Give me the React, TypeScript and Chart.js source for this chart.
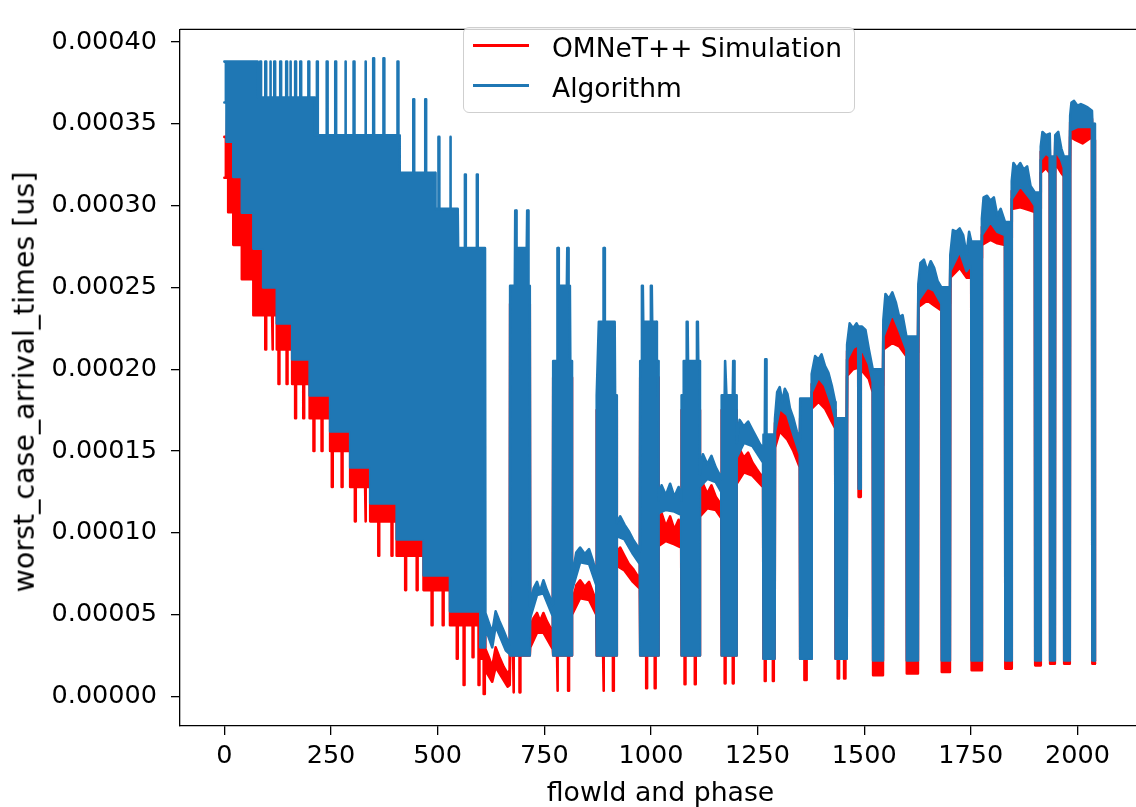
import React, { useEffect, useRef } from "react";
import { Chart, registerables } from "chart.js";

Chart.register(...registerables);

// All y values below are written in units of 1e-5 us.
const Y_UNIT = 1e-5;

const xTicks = [0, 250, 500, 750, 1000, 1250, 1500, 1750, 2000];
const xTickLabels = ["0", "250", "500", "750", "1000", "1250", "1500", "1750", "2000"];
const yTicks = [0, 5, 10, 15, 20, 25, 30, 35, 40];
const yTickLabels = ["0.00000", "0.00005", "0.00010", "0.00015", "0.00020", "0.00025", "0.00030", "0.00035", "0.00040"];

const seriesNames = ["OMNeT++ Simulation", "Algorithm"];
const seriesColors = ["#ff0000", "#1f77b4"];
const xAxisTitle = "flowId and phase";
const yAxisTitle = "worst_case_arrival_times [us]";

// ---------- Algorithm: upper edge of the trace ----------
const algorithmUpperDense: [number, number][] = [
  [0, 38.8], [78, 38.8], [79, 36.6],
  [84, 36.6], [84, 38.8], [86, 38.8], [86, 36.6],
  [96, 36.6], [96, 38.8], [98, 38.8], [98, 36.6],
  [107, 36.6], [107, 38.8], [109, 38.8], [109, 36.6],
  [117, 36.6], [117, 38.8], [119, 38.8], [119, 36.6],
  [131, 36.6], [131, 38.8], [133, 38.8], [133, 36.6],
  [145, 36.6], [145, 38.8], [147, 38.8], [147, 36.6],
  [154, 36.6], [154, 38.8], [156, 38.8], [156, 36.6],
  [166, 36.6], [166, 38.8], [168, 38.8], [168, 36.6],
  [178, 36.6], [178, 38.8], [180, 38.8], [180, 36.6],
  [197, 36.6], [197, 38.8], [199, 38.8], [199, 36.6],
  [212, 36.6], [213, 34.3],
  [217, 34.3], [217, 38.8], [219, 38.8], [219, 34.3],
  [240, 34.3], [240, 38.8], [242, 38.8], [242, 34.3],
  [260, 34.3], [260, 38.8], [262, 38.8], [262, 34.3],
  [283, 34.3], [283, 38.8], [285, 38.8], [285, 34.3],
  [303, 34.3], [303, 38.8], [305, 38.8], [305, 34.3],
  [330, 34.3], [330, 38.8], [332, 38.8], [332, 34.3],
  [349, 34.3], [349, 39.0], [351, 39.0], [351, 34.3],
  [373, 34.3], [373, 39.0], [375, 39.0], [375, 34.3],
  [406, 34.3], [406, 38.8], [408, 38.8], [408, 34.3],
  [410, 34.3], [411, 32.0],
  [443, 32.0], [443, 36.5], [445, 36.5], [445, 32.0],
  [471, 32.0], [471, 36.5], [473, 36.5], [473, 32.0],
  [494, 32.0], [495, 29.8],
  [502, 29.8], [502, 34.2], [504, 34.2], [504, 29.8],
  [529, 29.8], [529, 34.2], [531, 34.2], [531, 29.8],
  [547, 29.8], [548, 27.4],
  [564, 27.4], [564, 31.9], [566, 31.9], [566, 27.4],
  [592, 27.4], [592, 31.9], [594, 31.9], [594, 27.4],
  [611, 27.4],
];

const algorithmUpperSparse: [number, number][] = [
  [612, 5.1], [620, 4.5], [628, 3.9], [636, 5.2], [645, 4.6], [655, 4.0], [664, 3.4], [669, 3.2],
  [670, 25.1], [681, 25.1], [682, 29.7], [684, 29.7], [685, 27.4], [709, 27.4], [710, 29.7], [712, 29.7], [713, 25.1], [716, 25.1],
  [717, 5.5], [725, 6.6], [733, 7.0], [740, 6.4], [748, 7.1], [756, 6.5], [764, 6.0], [770, 5.6],
  [771, 20.5], [780, 20.5], [781, 27.4], [783, 27.4], [784, 25.1], [803, 25.1], [804, 27.4], [806, 27.4], [807, 25.1], [810, 25.1], [811, 20.5], [814, 20.5],
  [815, 7.2], [825, 8.8], [834, 9.1], [845, 8.7], [855, 9.0], [865, 8.2], [872, 7.5],
  [873, 18.4], [878, 22.9], [888, 22.9], [889, 27.4], [891, 27.4], [892, 22.9], [915, 22.9], [916, 18.4], [919, 18.4],
  [920, 10.6], [928, 11.0], [938, 10.5], [948, 10.1], [958, 9.6], [968, 9.2], [974, 8.9],
  [975, 20.5], [978, 20.5], [979, 25.1], [981, 25.1], [982, 22.9], [999, 22.9], [1000, 25.1], [1002, 25.1], [1003, 22.9], [1013, 22.9], [1014, 20.5], [1017, 20.5],
  [1018, 12.0], [1025, 12.9], [1035, 12.3], [1045, 13.0], [1055, 12.2], [1065, 12.8], [1071, 12.0],
  [1072, 18.4], [1076, 18.4], [1077, 20.5], [1083, 20.5], [1084, 22.9], [1086, 22.9], [1087, 20.5], [1107, 20.5], [1108, 22.9], [1110, 22.9], [1111, 20.5], [1114, 20.5],
  [1115, 13.6], [1122, 14.8], [1132, 14.2], [1142, 14.7], [1152, 14.0], [1160, 13.6], [1165, 13.3],
  [1166, 18.4], [1173, 18.4], [1174, 20.5], [1176, 20.5], [1177, 18.4], [1192, 18.4], [1193, 20.5], [1195, 20.5], [1196, 18.4], [1200, 18.4],
  [1201, 15.5], [1208, 16.9], [1218, 16.5], [1228, 16.8], [1238, 16.3], [1248, 15.8], [1256, 15.4], [1263, 15.2],
  [1264, 16.0], [1267, 16.0], [1268, 20.6], [1270, 20.6], [1271, 16.0], [1290, 16.0],
  [1291, 17.0], [1296, 18.6], [1302, 18.9], [1308, 18.0], [1314, 18.8], [1320, 18.5], [1326, 17.6], [1334, 17.0], [1342, 16.2], [1349, 15.6],
  [1350, 18.2], [1376, 18.2],
  [1377, 19.7], [1385, 20.8], [1393, 20.6], [1400, 20.9], [1408, 20.2], [1416, 19.8], [1424, 19.0], [1432, 18.0],
  [1433, 17.0], [1459, 17.0],
  [1460, 21.5], [1466, 22.8], [1474, 22.5], [1482, 22.8], [1486, 22.6], [1495, 22.6], [1503, 22.4], [1511, 21.2], [1520, 20.0],
  [1521, 20.0], [1544, 20.0],
  [1545, 23.0], [1550, 24.6], [1558, 24.3], [1566, 24.7], [1574, 24.1], [1582, 23.2], [1590, 23.3], [1599, 22.0],
  [1600, 22.0], [1626, 22.0],
  [1627, 25.2], [1632, 26.5], [1640, 26.7], [1648, 26.0], [1656, 26.6], [1664, 26.2], [1672, 25.4], [1681, 25.0],
  [1682, 25.0], [1701, 25.0],
  [1702, 27.0], [1708, 28.5], [1716, 28.4], [1724, 28.6], [1732, 28.2], [1740, 27.0], [1746, 28.4], [1751, 27.8],
  [1752, 27.8], [1775, 27.8],
  [1776, 29.2], [1780, 30.5], [1788, 30.6], [1796, 30.3], [1804, 30.5], [1812, 29.4], [1820, 29.8], [1830, 29.0],
  [1831, 29.0], [1845, 29.0],
  [1846, 31.5], [1850, 32.6], [1858, 32.3], [1866, 32.6], [1874, 32.2], [1882, 32.4], [1890, 31.2], [1900, 30.8],
  [1901, 30.8], [1913, 30.8],
  [1914, 33.6], [1918, 34.5], [1926, 34.3], [1935, 34.4],
  [1936, 33.0], [1947, 33.0],
  [1948, 34.3], [1955, 34.5], [1962, 33.5], [1968, 33.0],
  [1969, 33.0], [1982, 33.0],
  [1983, 35.5], [1986, 36.3], [1992, 36.4], [2000, 36.1], [2008, 36.2], [2016, 36.1], [2024, 36.0], [2034, 35.8],
  [2035, 35.0], [2040, 35.0], [2041, 2.2],
];

// ---------- Algorithm: lower edge of the trace ----------
const algorithmLowerDense: [number, number][] = [
  [0, 36.3], [5, 36.3], [5, 33.9], [21, 33.9], [21, 31.75], [41, 31.75], [41, 29.56], [68, 29.56],
  [68, 27.37], [91, 27.37], [91, 25.0], [123, 25.0], [123, 22.8], [159, 22.8], [159, 20.6], [200, 20.6],
  [200, 18.4], [248, 18.4], [248, 16.2], [295, 16.2], [295, 14.0], [342, 14.0], [342, 11.8], [404, 11.8],
  [404, 9.6], [467, 9.6], [467, 7.4], [529, 7.4], [529, 5.2], [600, 5.2], [600, 3.0], [611, 3.0],
];

const algorithmLowerSparse: [number, number][] = [
  [612, 4.2], [628, 3.0], [636, 4.3], [660, 2.8], [669, 2.6],
  [670, 2.5], [716, 2.5],
  [717, 4.8], [733, 6.2], [748, 6.3], [770, 4.9],
  [771, 2.5], [814, 2.5],
  [815, 6.5], [834, 8.2], [855, 8.1], [872, 6.8],
  [873, 2.5], [919, 2.5],
  [920, 9.8], [938, 9.6], [958, 8.7], [974, 8.1],
  [975, 2.5], [1017, 2.5],
  [1018, 11.2], [1035, 11.4], [1055, 11.3], [1071, 11.1],
  [1072, 2.5], [1114, 2.5],
  [1115, 12.8], [1132, 13.3], [1152, 13.1], [1165, 12.5],
  [1166, 2.5], [1200, 2.5],
  [1201, 14.6], [1218, 15.5], [1238, 15.3], [1263, 14.3],
  [1264, 2.3], [1290, 2.3],
  [1291, 16.2], [1302, 17.6], [1320, 17.2], [1334, 16.0], [1349, 14.8],
  [1350, 2.3], [1376, 2.3],
  [1377, 18.6], [1393, 19.5], [1408, 19.0], [1424, 17.8], [1432, 17.0],
  [1433, 2.3], [1459, 2.3],
  [1460, 20.6], [1474, 21.3], [1486, 21.5], [1487, 12.7], [1491, 12.7], [1492, 21.4], [1511, 20.3], [1520, 19.2],
  [1521, 2.2], [1544, 2.2],
  [1545, 22.0], [1566, 23.4], [1582, 22.4], [1599, 21.2],
  [1600, 2.2], [1626, 2.2],
  [1627, 24.2], [1648, 25.0], [1664, 24.8], [1681, 24.0],
  [1682, 2.2], [1701, 2.2],
  [1702, 26.0], [1724, 27.2], [1740, 26.0], [1751, 26.4],
  [1752, 2.2], [1775, 2.2],
  [1776, 28.2], [1796, 29.0], [1812, 28.4], [1830, 28.2],
  [1831, 2.2], [1845, 2.2],
  [1846, 30.4], [1866, 31.2], [1890, 30.4], [1900, 30.0],
  [1901, 2.2], [1913, 2.2],
  [1914, 32.8], [1926, 33.2], [1935, 33.0],
  [1936, 2.2], [1947, 2.2],
  [1948, 33.4], [1962, 32.8], [1968, 32.3],
  [1969, 2.2], [1982, 2.2],
  [1983, 34.6], [2000, 34.8], [2034, 34.8],
  [2035, 2.2], [2041, 2.2],
];

// ---------- OMNeT++ Simulation: upper edge of the trace ----------
const simulationUpperDense: [number, number][] = [
  [0, 34.2], [6, 34.2], [7, 36.0], [100, 31.0], [200, 25.5], [300, 20.0], [400, 15.0], [500, 10.0], [560, 8.0], [611, 5.0],
];

const simulationUpperSparse: [number, number][] = [
  [612, 2.9], [620, 2.4], [628, 1.8], [636, 3.0], [645, 2.4], [655, 1.8], [664, 1.4], [669, 1.6],
  [670, 24.0], [716, 24.0],
  [717, 4.0], [725, 4.8], [733, 5.1], [740, 4.6], [748, 5.1], [756, 4.6], [764, 4.2], [770, 3.8],
  [771, 19.5], [814, 19.5],
  [815, 5.6], [825, 6.8], [834, 7.1], [845, 6.7], [855, 7.0], [865, 6.3], [872, 5.7],
  [873, 17.5], [919, 17.5],
  [920, 8.8], [928, 9.1], [938, 8.6], [948, 8.1], [958, 7.8], [968, 7.4], [974, 7.2],
  [975, 19.5], [1017, 19.5],
  [1018, 10.2], [1025, 11.2], [1035, 10.4], [1045, 11.0], [1055, 10.2], [1065, 10.8], [1071, 10.0],
  [1072, 17.5], [1114, 17.5],
  [1115, 11.8], [1122, 13.0], [1132, 12.4], [1142, 12.9], [1152, 12.2], [1160, 11.9], [1165, 11.6],
  [1166, 17.5], [1200, 17.5],
  [1201, 13.6], [1208, 15.1], [1218, 14.6], [1228, 14.9], [1238, 14.3], [1248, 13.9], [1256, 13.6], [1263, 13.4],
  [1264, 15.0], [1290, 15.0],
  [1291, 16.7], [1302, 18.1], [1320, 17.7], [1334, 16.5], [1349, 15.3],
  [1350, 17.0], [1376, 17.0],
  [1377, 19.1], [1393, 20.0], [1408, 19.5], [1424, 18.3], [1432, 17.5],
  [1433, 16.0], [1459, 16.0],
  [1460, 21.1], [1474, 21.8], [1486, 22.0], [1495, 21.9], [1511, 20.8], [1520, 19.7],
  [1521, 19.0], [1544, 19.0],
  [1545, 22.5], [1566, 23.9], [1582, 22.9], [1599, 21.6],
  [1600, 21.0], [1626, 21.0],
  [1627, 24.7], [1648, 25.5], [1664, 25.3], [1681, 24.5],
  [1682, 24.0], [1701, 24.0],
  [1702, 26.5], [1724, 27.7], [1740, 26.5], [1751, 26.9],
  [1752, 26.8], [1775, 26.8],
  [1776, 28.7], [1796, 29.5], [1812, 28.9], [1830, 28.7],
  [1831, 28.0], [1845, 28.0],
  [1846, 30.9], [1866, 31.7], [1890, 30.9], [1900, 30.5],
  [1901, 29.8], [1913, 29.8],
  [1914, 33.3], [1926, 33.7], [1935, 33.5],
  [1936, 32.0], [1947, 32.0],
  [1948, 33.9], [1962, 33.3], [1968, 32.8],
  [1969, 32.0], [1982, 32.0],
  [1983, 35.1], [2000, 35.3], [2034, 35.3],
  [2035, 34.0], [2040, 34.0], [2041, 2.0],
];

// ---------- OMNeT++ Simulation: lower edge of the trace ----------
const simulationLowerDense: [number, number][] = [
  [0, 31.7], [9, 31.7], [9, 29.6], [21, 29.6], [21, 27.6], [41, 27.6], [41, 25.5], [68, 25.5], [68, 23.3],
  [96, 23.3], [96, 21.2], [98, 21.2], [98, 23.3],
  [112, 23.3], [112, 21.2], [114, 21.2], [114, 23.3],
  [123, 23.3], [123, 21.2],
  [127, 21.2], [127, 19.1], [129, 19.1], [129, 21.2],
  [146, 21.2], [146, 19.1], [148, 19.1], [148, 21.2],
  [159, 21.2], [159, 19.1],
  [166, 19.1], [166, 17.0], [168, 17.0], [168, 19.1],
  [185, 19.1], [185, 17.0], [187, 17.0], [187, 19.1],
  [200, 19.1], [200, 17.0],
  [209, 17.0], [209, 15.0], [211, 15.0], [211, 17.0],
  [228, 17.0], [228, 15.0], [230, 15.0], [230, 17.0],
  [248, 17.0], [248, 15.0],
  [252, 15.0], [252, 12.8], [254, 12.8], [254, 15.0],
  [275, 15.0], [275, 12.8], [277, 12.8], [277, 15.0],
  [295, 15.0], [295, 12.8],
  [306, 12.8], [306, 10.7], [308, 10.7], [308, 12.8],
  [330, 12.8], [330, 10.7], [332, 10.7], [332, 12.8],
  [342, 12.8], [342, 10.7],
  [361, 10.7], [361, 8.6], [363, 8.6], [363, 10.7],
  [392, 10.7], [392, 8.6], [394, 8.6], [394, 10.7],
  [404, 10.7], [404, 8.6],
  [424, 8.6], [424, 6.5], [426, 6.5], [426, 8.6],
  [451, 8.6], [451, 6.5], [453, 6.5], [453, 8.6],
  [467, 8.6], [467, 6.5],
  [486, 6.5], [486, 4.35], [488, 4.35], [488, 6.5],
  [512, 6.5], [512, 4.35], [514, 4.35], [514, 6.5],
  [529, 6.5], [529, 4.35],
  [545, 4.35], [545, 2.3], [547, 2.3], [547, 4.35],
  [561, 4.35], [561, 0.7], [563, 0.7], [563, 4.35],
  [582, 4.35], [582, 2.4], [584, 2.4], [584, 4.35],
  [596, 4.35], [596, 0.7], [598, 0.7], [598, 4.35],
  [600, 4.35], [600, 2.3],
  [608, 2.3], [608, 0.15], [610, 0.15], [610, 2.3], [611, 2.3],
];

const simulationLowerSparse: [number, number][] = [
  [612, 1.6], [628, 0.9], [636, 1.8], [664, 0.6], [669, 0.7],
  [670, 2.5], [677, 2.5], [677, 0.25], [679, 0.25], [679, 2.5], [692, 2.5], [692, 0.25], [694, 0.25], [694, 2.5], [716, 2.5],
  [717, 3.0], [733, 3.9], [748, 3.9], [770, 2.9],
  [771, 2.5], [780, 2.5], [780, 0.35], [782, 0.35], [782, 2.5], [806, 2.5], [806, 0.35], [808, 0.35], [808, 2.5], [814, 2.5],
  [815, 5.0], [834, 6.0], [855, 5.9], [872, 5.0],
  [873, 2.5], [888, 2.5], [888, 0.35], [890, 0.35], [890, 2.5], [911, 2.5], [911, 0.35], [913, 0.35], [913, 2.5], [919, 2.5],
  [920, 8.0], [938, 7.7], [958, 7.0], [974, 6.6],
  [975, 2.5], [989, 2.5], [989, 0.5], [991, 0.5], [991, 2.5], [1009, 2.5], [1009, 0.5], [1011, 0.5], [1011, 2.5], [1017, 2.5],
  [1018, 9.2], [1035, 9.5], [1055, 9.3], [1071, 9.1],
  [1072, 2.5], [1079, 2.5], [1079, 0.75], [1081, 0.75], [1081, 2.5], [1103, 2.5], [1103, 0.75], [1105, 0.75], [1105, 2.5], [1114, 2.5],
  [1115, 11.0], [1132, 11.5], [1152, 11.4], [1165, 10.9],
  [1166, 2.5], [1173, 2.5], [1173, 0.8], [1175, 0.8], [1175, 2.5], [1192, 2.5], [1192, 0.8], [1194, 0.8], [1194, 2.5], [1200, 2.5],
  [1201, 13.0], [1218, 13.7], [1238, 13.5], [1263, 12.8],
  [1264, 2.3], [1267, 2.3], [1267, 0.95], [1269, 0.95], [1269, 2.3], [1286, 2.3], [1286, 0.95], [1288, 0.95], [1288, 2.3], [1290, 2.3],
  [1291, 15.2], [1302, 16.2], [1320, 15.7], [1334, 15.0], [1349, 14.0],
  [1350, 2.3], [1360, 2.3], [1360, 1.0], [1365, 1.0], [1365, 2.3], [1376, 2.3],
  [1377, 17.6], [1393, 18.0], [1408, 17.6], [1424, 16.8], [1432, 16.4],
  [1433, 2.3], [1438, 2.3], [1438, 1.1], [1441, 1.1], [1441, 2.3], [1453, 2.3], [1453, 1.1], [1456, 1.1], [1456, 2.3], [1459, 2.3],
  [1460, 19.6], [1474, 20.0], [1486, 20.1], [1487, 12.2], [1491, 12.2], [1492, 20.0], [1511, 19.4], [1520, 18.6],
  [1521, 1.3], [1544, 1.3],
  [1545, 21.2], [1566, 21.6], [1582, 21.4], [1599, 20.8],
  [1600, 1.4], [1626, 1.4],
  [1627, 23.8], [1648, 24.2], [1664, 23.9], [1681, 23.6],
  [1682, 1.5], [1701, 1.5],
  [1702, 25.6], [1724, 26.2], [1740, 25.6], [1751, 25.6],
  [1752, 1.6], [1775, 1.6],
  [1776, 27.6], [1796, 27.9], [1812, 27.7], [1830, 27.6],
  [1831, 1.7], [1845, 1.7],
  [1846, 29.8], [1866, 29.9], [1890, 29.7], [1900, 29.6],
  [1901, 1.9], [1913, 1.9],
  [1914, 32.0], [1926, 32.3], [1935, 32.0],
  [1936, 2.0], [1947, 2.0],
  [1948, 32.6], [1962, 32.0], [1968, 31.8],
  [1969, 2.0], [1982, 2.0],
  [1983, 34.2], [1996, 34.0], [2012, 33.8], [2034, 34.2],
  [2035, 2.0], [2041, 2.0],
];

const toPoints = (list: [number, number][]) => list.map(([x, y]) => ({ x, y: y * Y_UNIT }));

const FONT = "'DejaVu Sans', 'Liberation Sans', sans-serif";

const framePlugin = {
  id: "frame",
  afterDatasetsDraw(chart: any) {
    const { ctx, chartArea } = chart;
    ctx.save();
    ctx.strokeStyle = "#000";
    ctx.lineWidth = 1.3;
    ctx.beginPath();
    ctx.moveTo(chartArea.left, chartArea.top);
    ctx.lineTo(chartArea.right, chartArea.top);
    ctx.lineTo(chartArea.right, chartArea.bottom);
    ctx.stroke();
    ctx.restore();
  },
};

export default function App() {
  const canvasRef = useRef<HTMLCanvasElement | null>(null);

  useEffect(() => {
    if (!canvasRef.current) return;
    const [simColor, algColor] = seriesColors;
    const lineCommon = {
      pointRadius: 0,
      borderWidth: 2.6,
      tension: 0,
      borderJoinStyle: "round" as const,
      borderCapStyle: "round" as const,
    };
    const chart = new Chart(canvasRef.current, {
      type: "line",
      data: {
        datasets: [
          {
            label: seriesNames[0],
            data: toPoints([...simulationUpperDense, ...simulationUpperSparse]),
            borderColor: simColor,
            backgroundColor: simColor,
            fill: "+1",
            order: 2,
            ...lineCommon,
          },
          {
            label: seriesNames[0] + " (lower)",
            data: toPoints([...simulationLowerDense, ...simulationLowerSparse]),
            borderColor: simColor,
            backgroundColor: simColor,
            fill: false,
            order: 2,
            ...lineCommon,
          },
          {
            label: seriesNames[1],
            data: toPoints([...algorithmUpperDense, ...algorithmUpperSparse]),
            borderColor: algColor,
            backgroundColor: algColor,
            fill: "+1",
            order: 1,
            ...lineCommon,
          },
          {
            label: seriesNames[1] + " (lower)",
            data: toPoints([...algorithmLowerDense, ...algorithmLowerSparse]),
            borderColor: algColor,
            backgroundColor: algColor,
            fill: false,
            order: 1,
            ...lineCommon,
          },
        ],
      },
      options: {
        animation: false,
        responsive: false,
        events: [],
        layout: { padding: { left: 0, right: 5, top: 12, bottom: 0 } },
        plugins: {
          legend: { display: false },
          tooltip: { enabled: false },
        },
        scales: {
          x: {
            type: "linear",
            min: -104,
            max: 2149,
            afterBuildTicks: (axis: any) => {
              axis.ticks = xTicks.map((v) => ({ value: v }));
            },
            afterFit: (axis: any) => {
              axis.height = 81;
            },
            grid: {
              drawOnChartArea: false,
              drawTicks: true,
              tickLength: 9,
              color: "#000",
              lineWidth: 1.3,
            },
            border: { display: true, color: "#000", width: 1.3 },
            ticks: {
              autoSkip: false,
              maxRotation: 0,
              padding: 6,
              color: "#000",
              font: { family: FONT, size: 25.5 },
              callback: (_v: any, i: number) => xTickLabels[i],
            },
            title: {
              display: true,
              text: xAxisTitle,
              color: "#000",
              font: { family: FONT, size: 26.7 },
              padding: { top: 0, bottom: -3 },
            },
          },
          y: {
            type: "linear",
            min: -1.807 * Y_UNIT,
            max: 40.775 * Y_UNIT,
            afterBuildTicks: (axis: any) => {
              axis.ticks = yTicks.map((v) => ({ value: v * Y_UNIT }));
            },
            afterFit: (axis: any) => {
              axis.width = 180;
            },
            grid: {
              drawOnChartArea: false,
              drawTicks: true,
              tickLength: 9,
              color: "#000",
              lineWidth: 1.3,
            },
            border: { display: true, color: "#000", width: 1.3 },
            ticks: {
              autoSkip: false,
              padding: 14,
              color: "#000",
              font: { family: FONT, size: 25.5 },
              callback: (_v: any, i: number) => yTickLabels[i],
            },
            title: { display: false },
          },
        },
      },
      plugins: [framePlugin],
    });
    return () => chart.destroy();
  }, []);

  const legendText = { position: "absolute" as const, left: 552, fontFamily: FONT, fontSize: 26.5, lineHeight: "30px", color: "#000", whiteSpace: "nowrap" as const };

  return (
    <div style={{ position: "fixed", left: 0, top: 0, width: 1136, height: 807, overflow: "hidden", background: "#fff" }}>
      <canvas ref={canvasRef} width={1146} height={807} style={{ position: "absolute", left: 0, top: 0, width: 1146, height: 807 }} />
      <div
        style={{
          position: "absolute",
          left: 25,
          top: 382,
          transform: "translate(-50%, -50%) rotate(-90deg)",
          fontFamily: FONT,
          fontSize: 28.5,
          lineHeight: 1,
          color: "#000",
          whiteSpace: "nowrap",
        }}
      >
        {yAxisTitle}
      </div>
      <div style={{ position: "absolute", left: 463, top: 27, width: 392, height: 86, boxSizing: "border-box", border: "1.3px solid #cfcfcf", borderRadius: 6, background: "rgba(255,255,255,0.8)" }} />
      <div style={{ position: "absolute", left: 473, top: 44, width: 56, height: 3, background: seriesColors[0] }} />
      <div style={{ ...legendText, top: 32.5 }}>{seriesNames[0]}</div>
      <div style={{ position: "absolute", left: 473, top: 84, width: 56, height: 3, background: seriesColors[1] }} />
      <div style={{ ...legendText, top: 72.5 }}>{seriesNames[1]}</div>
    </div>
  );
}
